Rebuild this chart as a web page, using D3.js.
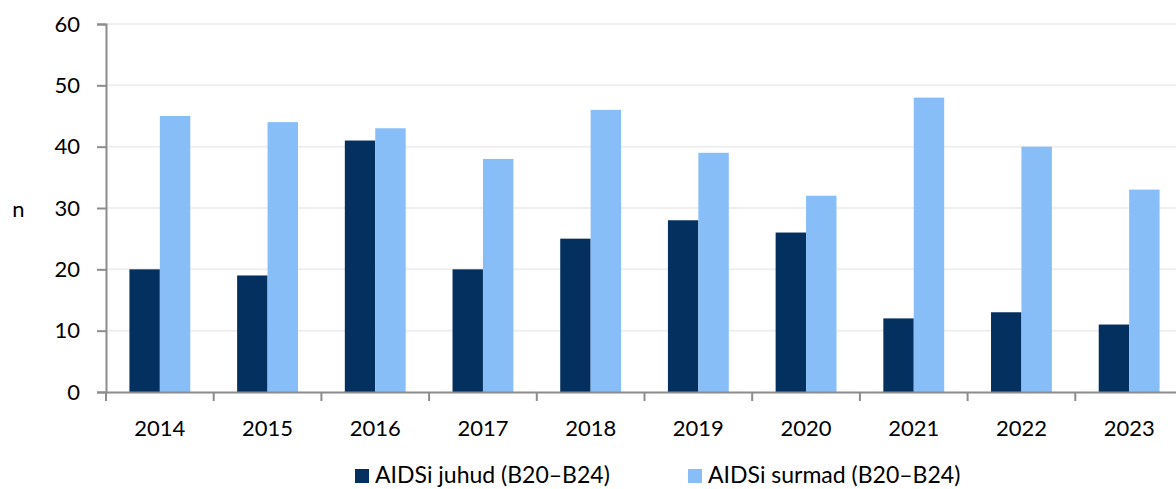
<!DOCTYPE html>
<html>
<head>
<meta charset="utf-8">
<script src="https://cdn.jsdelivr.net/npm/d3@7"></script>
<style>
  body { margin: 0; background: #fff; }
  svg text { font-family: Lato, "Open Sans", sans-serif; fill: #000; }
</style>
</head>
<body>
<svg width="1176" height="489"></svg>
<script>
var years = ["2014", "2015", "2016", "2017", "2018", "2019", "2020", "2021", "2022", "2023"];
var cases = [20, 19, 41, 20, 25, 28, 26, 12, 13, 11];   // AIDSi juhud
var deaths = [45, 44, 43, 38, 46, 39, 32, 48, 40, 33];  // AIDSi surmad
var seriesNames = ["AIDSi juhud (B20–B24)", "AIDSi surmad (B20–B24)"];
var yTicks = [0, 10, 20, 30, 40, 50, 60];

var colors = ["#03305e", "#87bef8"];

var svg = d3.select("svg");
var m = {left: 106, right: 1183, top: 24, bottom: 392};

var x = d3.scaleBand().domain(years).range([m.left, m.right]);
var x1 = d3.scaleBand().domain([0, 1]).range([0, x.bandwidth()]).paddingOuter(0.77).paddingInner(0);
var y = d3.scaleLinear().domain([0, 60]).range([m.bottom, m.top]);

// gridlines
svg.append("g").selectAll("line")
  .data(yTicks.filter(function(d) { return d > 0; }))
  .enter().append("line")
    .attr("x1", m.left).attr("x2", m.right)
    .attr("y1", function(d) { return y(d); })
    .attr("y2", function(d) { return y(d); })
    .attr("stroke", "#efefef").attr("stroke-width", 2);

// bars
var data = years.map(function(yr, i) { return [cases[i], deaths[i]]; });
svg.append("g").selectAll("g")
  .data(data)
  .enter().append("g")
    .attr("transform", function(d, i) { return "translate(" + x(years[i]) + ",0)"; })
  .selectAll("rect")
  .data(function(d) { return d; })
  .enter().append("rect")
    .attr("x", function(d, j) { return x1(j); })
    .attr("width", x1.bandwidth())
    .attr("y", function(d) { return y(d); })
    .attr("height", function(d) { return y(0) - y(d); })
    .attr("fill", function(d, j) { return colors[j]; });

// y axis
var yAxis = svg.append("g")
  .attr("transform", "translate(" + m.left + ",0)")
  .call(d3.axisLeft(y).tickValues(yTicks).tickSize(9).tickPadding(17));
yAxis.selectAll("text").style("font-size", "22px");

// x axis
var xAxis = svg.append("g")
  .attr("transform", "translate(0," + m.bottom + ")")
  .call(d3.axisBottom(x).tickSize(0).tickPadding(28));
xAxis.selectAll("text").style("font-size", "22px");
xAxis.selectAll(".tick").filter(function(d, i) { return i > 0; })
  .append("line")
    .attr("x1", -x.bandwidth() / 2).attr("x2", -x.bandwidth() / 2)
    .attr("y1", 0).attr("y2", 9);
xAxis.append("line")
  .attr("x1", m.left).attr("x2", m.left).attr("y1", 0).attr("y2", 9);

svg.selectAll(".domain, .tick line").attr("stroke", "#8c8c8c").attr("stroke-width", 2);
xAxis.selectAll("line").attr("stroke", "#8c8c8c").attr("stroke-width", 2);

// y label
svg.append("text").attr("x", 18.5).attr("y", 217)
  .attr("text-anchor", "middle").style("font-size", "22px").text("n");

// legend
var legendX = [355, 688];
var lg = svg.append("g").selectAll("g")
  .data(seriesNames)
  .enter().append("g")
    .attr("transform", function(d, i) { return "translate(" + legendX[i] + ",469)"; });
lg.append("rect").attr("width", 14).attr("height", 14)
  .attr("fill", function(d, i) { return colors[i]; });
lg.append("text").attr("x", 20).attr("y", 14)
  .style("font-size", "23px").text(function(d) { return d; });
</script>
</body>
</html>
